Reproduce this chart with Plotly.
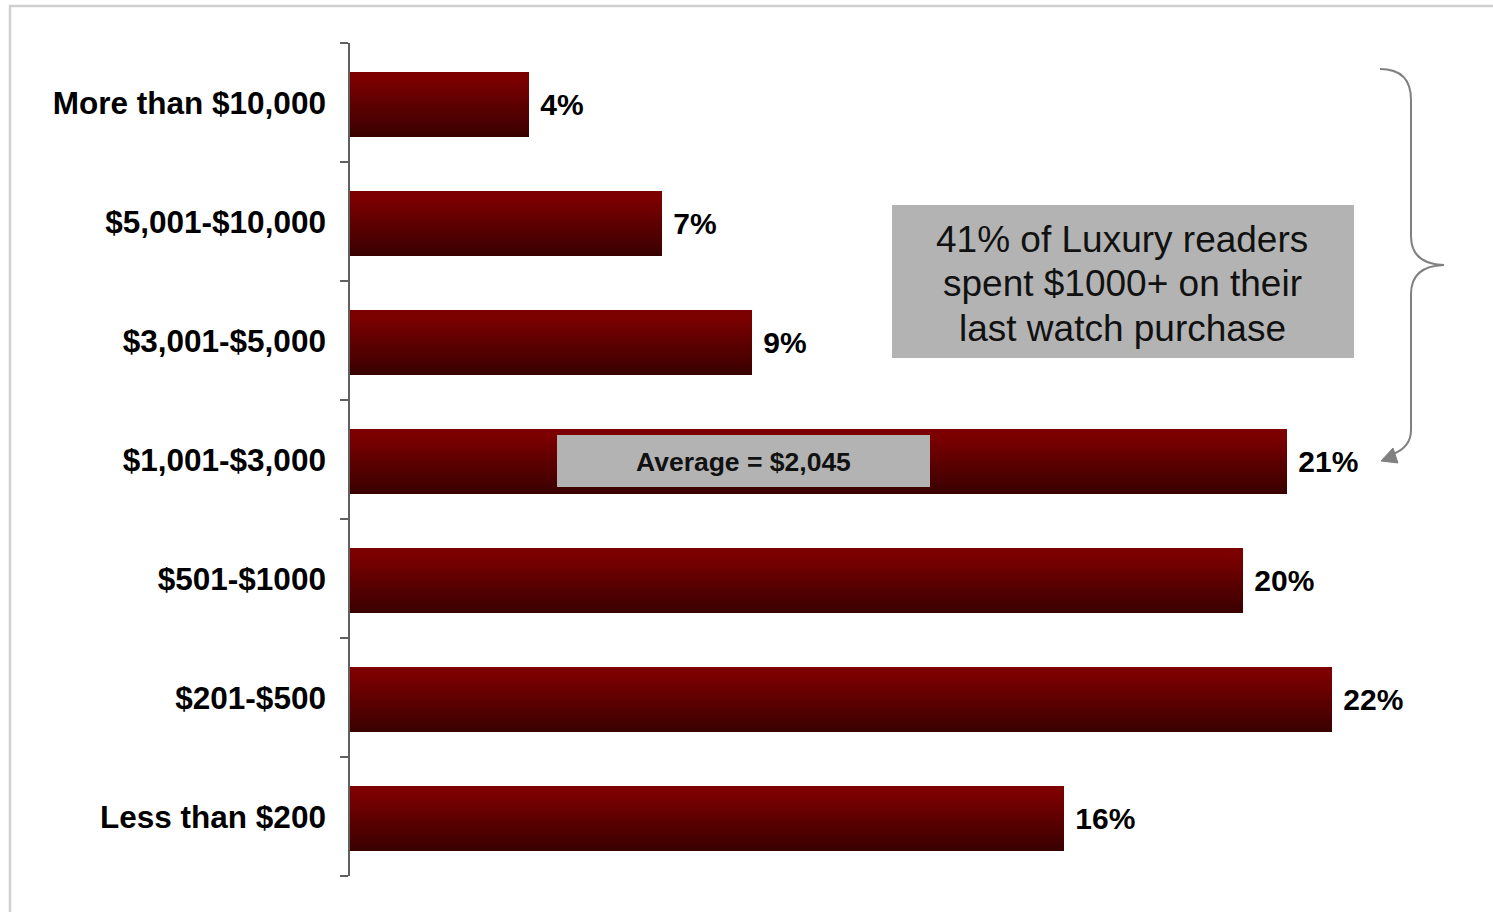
import plotly.graph_objects as go

# Spend brackets (bottom to top) and share of readers, in percent
categories = [
    "Less than $200",
    "$201-$500",
    "$501-$1000",
    "$1,001-$3,000",
    "$3,001-$5,000",
    "$5,001-$10,000",
    "More than $10,000",
]
shares = [16, 22, 20, 21, 9, 7, 4]

callout_lines = ["41% of Luxury readers", "spent $1000+ on their", "last watch purchase"]
average_label = "Average = $2,045"

FONT = "Liberation Sans, Arial, sans-serif"
FIG_W, FIG_H = 1493, 912
# plot area in pixels
L, T, W, H = 350, 43, 1116, 833
X_MAX = 25


def px(x):
    return (x - L) / W


def py(y):
    return (T + H - y) / H


def lerp_color(c1, c2, t):
    return "rgb(%d,%d,%d)" % tuple(round(a + (b - a) * t) for a, b in zip(c1, c2))


TOP = (124, 0, 0)
BOTTOM = (56, 0, 0)


def shade(t):
    # t = 0 at top edge of a bar, 1 at bottom edge
    if t < 0.12:
        return lerp_color(TOP, TOP, 0)
    return lerp_color(TOP, BOTTOM, (t - 0.12) / 0.88)


fig = go.Figure()

# Vertical gradient built from stacked slices of each bar
BAR_LOW, BAR_W = -0.29, 0.55
N = 32
for k in range(N):
    frac = 1 - k / N
    w = BAR_W * frac
    color = shade(1 - (k + 0.5) / N)
    fig.add_trace(go.Bar(
        y=categories,
        x=shares,
        orientation="h",
        offset=BAR_LOW + BAR_W - w,
        width=w,
        marker=dict(color=color, line=dict(width=0)),
        texttemplate=" %{x}%" if k == 0 else None,
        textposition="outside" if k == 0 else "none",
        textfont=dict(family=FONT, size=30, color="black", weight="bold"),
        cliponaxis=False,
        hoverinfo="skip",
        showlegend=False,
    ))

shapes = []
annotations = []

# outer frame
shapes.append(dict(type="rect", xref="paper", yref="paper",
                   x0=px(10), x1=px(1510), y0=py(930), y1=py(6),
                   line=dict(color="#d0d0d0", width=2.5), fillcolor="rgba(0,0,0,0)"))

# callout box
shapes.append(dict(type="rect", xref="paper", yref="paper",
                   x0=px(892), x1=px(1354), y0=py(358), y1=py(205),
                   line=dict(width=0), fillcolor="#b3b3b3"))
for line_text, line_y in zip(callout_lines, [239, 283.5, 328]):
    annotations.append(dict(xref="paper", yref="paper", x=px(1122), y=py(line_y),
                            text=line_text, showarrow=False,
                            xanchor="center", yanchor="middle",
                            font=dict(family=FONT, size=37, color="#111111")))

# average box
shapes.append(dict(type="rect", xref="paper", yref="paper",
                   x0=px(557), x1=px(930), y0=py(487), y1=py(435),
                   line=dict(width=0), fillcolor="#b3b3b3"))
annotations.append(dict(xref="paper", yref="paper", x=px(743.5), y=py(462),
                        text=average_label, showarrow=False,
                        xanchor="center", yanchor="middle",
                        font=dict(family=FONT, size=26.5, color="#111111", weight="bold")))


def path(points):
    out = []
    for cmd, pts in points:
        coords = " ".join("%.5f,%.5f" % (px(x), py(y)) for x, y in pts)
        out.append(cmd + coords)
    return " ".join(out)


# curly brace with arrow
brace = path([
    ("M", [(1380, 69)]),
    ("Q", [(1411, 69), (1411, 100)]),
    ("L", [(1411, 236)]),
    ("Q", [(1411, 264), (1444, 265)]),
    ("Q", [(1411, 266), (1411, 294)]),
    ("L", [(1411, 430)]),
    ("Q", [(1411, 447), (1393, 454)]),
])
shapes.append(dict(type="path", xref="paper", yref="paper", path=brace,
                   line=dict(color="#808080", width=2)))
head = path([
    ("M", [(1381, 461)]),
    ("L", [(1393, 448)]),
    ("L", [(1398, 463)]),
]) + " Z"
shapes.append(dict(type="path", xref="paper", yref="paper", path=head,
                   line=dict(color="#808080", width=1), fillcolor="#808080"))

fig.update_layout(
    width=FIG_W, height=FIG_H,
    margin=dict(l=L, r=FIG_W - L - W, t=T, b=FIG_H - T - H, pad=0),
    paper_bgcolor="white", plot_bgcolor="white",
    barmode="overlay", bargap=0,
    shapes=shapes, annotations=annotations,
    xaxis=dict(range=[0, X_MAX], visible=False, fixedrange=True),
    yaxis=dict(
        type="category", categoryorder="array", categoryarray=categories,
        range=[-0.5, len(categories) - 0.5],
        showline=True, linecolor="#606060", linewidth=1.5,
        ticks="outside", tickson="boundaries", ticklen=8, tickcolor="#606060", tickwidth=1.5,
        tickfont=dict(family=FONT, size=31.5, color="black", weight="bold"),
        ticklabelstandoff=16,
        showgrid=False, zeroline=False,
    ),
)

fig.write_html("out.html")
